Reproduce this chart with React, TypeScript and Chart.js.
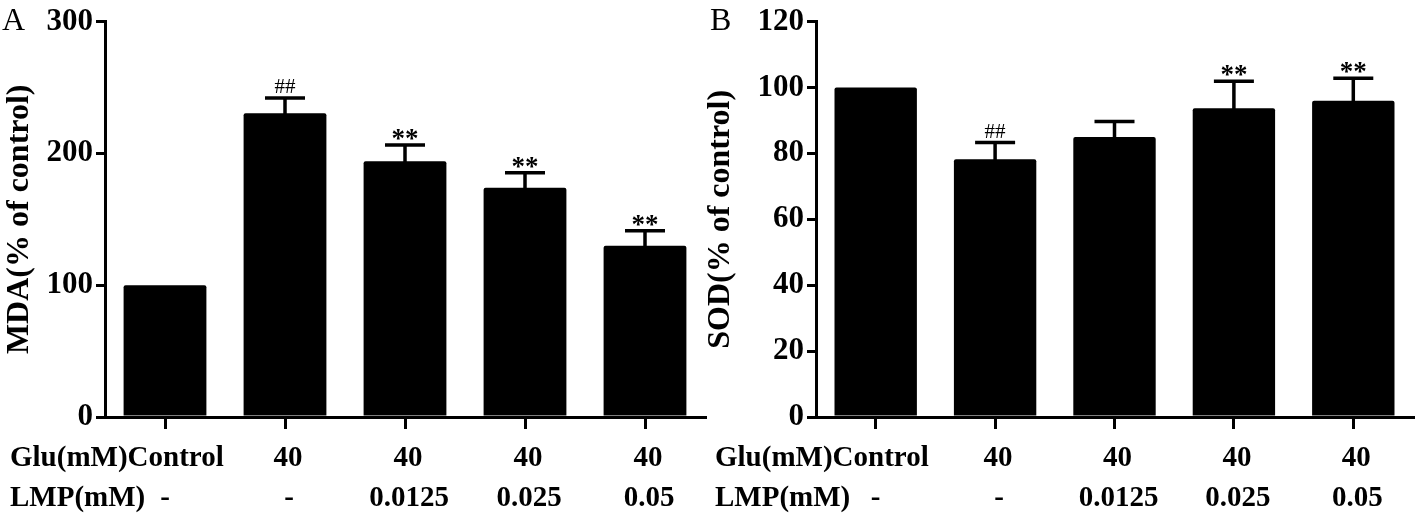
import React, { useEffect, useRef } from "react";
import { Chart, registerables } from "chart.js";

Chart.register(...registerables);

// ---- data ----
const gluRow = ["Control", "40", "40", "40", "40"];
const lmpRow = ["-", "-", "0.0125", "0.025", "0.05"];
const gluHeader = "Glu(mM)";
const lmpHeader = "LMP(mM)";

const mdaMeans = [100, 230.5, 194, 174, 130];
const mdaErrors = [0, 11.5, 12.3, 11.4, 11.3];
const mdaMarks = ["", "##", "**", "**", "**"];
const mdaMax = 300;
const mdaStep = 100;

const sodMeans = [100, 78.2, 85, 93.7, 96];
const sodErrors = [0, 5.1, 4.7, 8.2, 6.8];
const sodMarks = ["", "##", "", "**", "**"];
const sodMax = 120;
const sodStep = 20;

const SERIF = "'Liberation Serif', 'Times New Roman', serif";

type PanelProps = {
  letter: string;
  yTitle: string;
  means: number[];
  errors: number[];
  marks: string[];
  max: number;
  step: number;
  left: number;
  width: number;
  yAxisWidth: number;
  rightPad: number;
  titlePad: number;
  letterX: number;
};

function Panel(p: PanelProps) {
  const ref = useRef<HTMLCanvasElement | null>(null);
  useEffect(() => {
    if (!ref.current) return;
    const labels = gluRow.map((g, i) => g + " " + lmpRow[i]);

    const overlay = {
      id: "overlay" + p.letter,
      afterDatasetsDraw(chart: any) {
        const ctx = chart.ctx;
        const ys = chart.scales.y;
        const meta = chart.getDatasetMeta(0);
        ctx.save();
        meta.data.forEach((bar: any, i: number) => {
          const x = bar.x;
          const top = ys.getPixelForValue(p.means[i]);
          let markBase = top;
          if (p.errors[i] > 0) {
            const capY = ys.getPixelForValue(p.means[i] + p.errors[i]);
            ctx.strokeStyle = "#000";
            ctx.lineWidth = 3.5;
            ctx.beginPath();
            ctx.moveTo(x, top + 2);
            ctx.lineTo(x, capY);
            ctx.moveTo(x - 20, capY);
            ctx.lineTo(x + 20, capY);
            ctx.stroke();
            markBase = capY;
          }
          const m = p.marks[i];
          if (m) {
            ctx.fillStyle = "#000";
            ctx.textAlign = "center";
            ctx.textBaseline = "alphabetic";
            if (m.startsWith("#")) {
              ctx.font = "21px " + SERIF;
              ctx.fillText(m, x, markBase - 5);
            } else {
              ctx.font = "bold 27px " + SERIF;
              ctx.fillText(m, x, markBase + 2);
            }
          }
        });
        ctx.restore();
      },
      afterDraw(chart: any) {
        const ctx = chart.ctx;
        const xs = chart.scales.x;
        ctx.save();
        ctx.fillStyle = "#000";
        // panel letter
        ctx.font = "32px " + SERIF;
        ctx.textAlign = "left";
        ctx.textBaseline = "alphabetic";
        ctx.fillText(p.letter, p.letterX, 30);
        // bottom rows
        ctx.font = "bold 29px " + SERIF;
        const row1Y = 466;
        const row2Y = 506;
        ctx.textAlign = "left";
        ctx.fillText(gluHeader, 10, row1Y);
        ctx.fillText(lmpHeader, 10, row2Y);
        const hw = ctx.measureText(gluHeader).width;
        gluRow.forEach((t, i) => {
          const cx = xs.getPixelForValue(i);
          if (i === 0) {
            ctx.textAlign = "left";
            ctx.fillText(t, 10 + hw, row1Y);
          } else {
            ctx.textAlign = "center";
            ctx.fillText(t, cx + 3, row1Y);
          }
        });
        lmpRow.forEach((t, i) => {
          const cx = xs.getPixelForValue(i);
          ctx.textAlign = "center";
          ctx.fillText(t, cx + (i === 0 ? 0 : 4), row2Y);
        });
        ctx.restore();
      },
    };

    const chart = new Chart(ref.current, {
      type: "bar",
      data: {
        labels,
        datasets: [
          {
            data: p.means,
            backgroundColor: "#000",
            borderWidth: 0,
            borderRadius: 2,
            barPercentage: 0.69,
            categoryPercentage: 1.0,
          },
        ],
      },
      options: {
        responsive: false,
        maintainAspectRatio: false,
        animation: false,
        devicePixelRatio: 1,
        layout: { padding: { left: 0, right: p.rightPad, top: 20, bottom: 89 } },
        plugins: {
          legend: { display: false },
          tooltip: { enabled: false },
        },
        scales: {
          x: {
            offset: true,
            grid: {
              offset: false,
              drawOnChartArea: false,
              drawTicks: true,
              tickLength: 12,
              color: "#000",
              lineWidth: 3,
            },
            border: { display: true, color: "#000", width: 3 },
            ticks: { display: false },
          },
          y: {
            min: 0,
            max: p.max,
            afterFit: (scale: any) => {
              scale.width = p.yAxisWidth;
            },
            ticks: {
              stepSize: p.step,
              color: "#000",
              padding: 3,
              font: { family: SERIF, size: 31, weight: "bold" },
            },
            grid: {
              drawOnChartArea: false,
              drawTicks: true,
              tickLength: 9,
              color: "#000",
              lineWidth: 3,
            },
            border: { display: true, color: "#000", width: 3 },
            title: {
              display: true,
              text: p.yTitle,
              color: "#000",
              padding: { top: p.titlePad, bottom: 0 },
              font: { family: SERIF, size: 32, weight: "bold", lineHeight: 1 },
            },
          },
        },
      },
      plugins: [overlay],
    } as any);
    return () => chart.destroy();
  }, []);

  return (
    <canvas
      ref={ref}
      width={p.width}
      height={518}
      style={{
        position: "absolute",
        left: p.left,
        top: 0,
        width: p.width,
        height: 518,
      }}
    />
  );
}

export default function App() {
  return (
    <div
      style={{
        position: "absolute",
        left: 0,
        top: 0,
        width: 1418,
        height: 518,
        background: "#fff",
        overflow: "hidden",
      }}
    >
      <Panel
        letter="A"
        yTitle="MDA(% of control)"
        means={mdaMeans}
        errors={mdaErrors}
        marks={mdaMarks}
        max={mdaMax}
        step={mdaStep}
        left={0}
        width={709}
        yAxisWidth={105}
        rightPad={4}
        titlePad={4}
        letterX={2}
      />
      <Panel
        letter="B"
        yTitle="SOD(% of control)"
        means={sodMeans}
        errors={sodErrors}
        marks={sodMarks}
        max={sodMax}
        step={sodStep}
        left={705}
        width={713}
        yAxisWidth={111}
        rightPad={5}
        titlePad={0}
        letterX={5}
      />
    </div>
  );
}
